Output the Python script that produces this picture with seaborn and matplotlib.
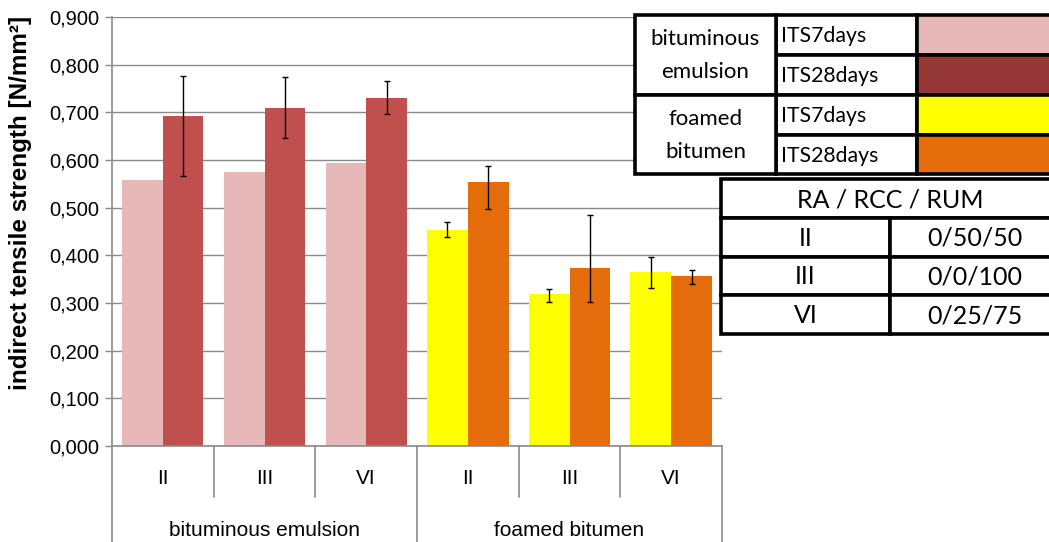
import seaborn as sns
import matplotlib.pyplot as plt
import pandas as pd
from matplotlib.patches import Rectangle
from matplotlib.ticker import FuncFormatter
from matplotlib.transforms import blended_transform_factory

# values
binders = ["bituminous emulsion", "foamed bitumen"]
mixes = ["II", "III", "VI"]
ages = ["ITS7days", "ITS28days"]

emul_7 = [0.558, 0.575, 0.594]
emul_28 = [0.692, 0.710, 0.731]
emul_28_lo = [0.126, 0.063, 0.035]
emul_28_hi = [0.084, 0.064, 0.035]
foam_7 = [0.453, 0.319, 0.365]
foam_7_lo = [0.015, 0.017, 0.034]
foam_7_hi = [0.016, 0.011, 0.031]
foam_28 = [0.554, 0.373, 0.357]
foam_28_lo = [0.057, 0.071, 0.017]
foam_28_hi = [0.033, 0.111, 0.013]

emul_colors = ["#E6B8B7", "#C0504D"]
foam_colors = ["#FFFF00", "#E46C0A"]
legend_colors = ["#E6B8B7", "#953735", "#FFFF00", "#E46C0A"]
mix_ratios = ["0/50/50", "0/0/100", "0/25/75"]

slots = [b + "|" + m for b in binders for m in mixes]

sns.set_style("white")
plt.rcParams["font.family"] = ["Liberation Sans", "DejaVu Sans"]
plt.rcParams["text.color"] = "black"
plt.rcParams["ytick.labelcolor"] = "black"

fig = plt.figure(figsize=(10.49, 5.42), dpi=100)
W, H = 1049, 542
ax = fig.add_axes([112 / W, (H - 446) / H, 610 / W, 429 / H])

series = [
    (binders[0], emul_7, emul_28, None, (emul_28_lo, emul_28_hi), emul_colors),
    (binders[1], foam_7, foam_28, (foam_7_lo, foam_7_hi), (foam_28_lo, foam_28_hi), foam_colors),
]
for binder, v7, v28, e7, e28, cols in series:
    df = pd.DataFrame({
        "slot": [binder + "|" + m for m in mixes] * 2,
        "age": [ages[0]] * 3 + [ages[1]] * 3,
        "its": v7 + v28,
    })
    sns.barplot(data=df, x="slot", y="its", hue="age", order=slots, hue_order=ages,
                palette=cols, saturation=1, errorbar=None, linewidth=0,
                legend=False, ax=ax, zorder=2)
    for cont, errs in zip(ax.containers[-2:], [e7, e28]):
        if errs is None:
            continue
        xs = [p.get_x() + p.get_width() / 2 for p in cont.patches]
        hs = [p.get_height() for p in cont.patches]
        ax.errorbar(xs, hs, yerr=[errs[0], errs[1]], fmt="none", ecolor="black",
                    elinewidth=1, capsize=2.5, capthick=1, zorder=3)

grey = "#8a8a8a"
ax.set_ylim(0, 0.9)
ax.set_xlim(-0.5, 5.5)
ax.set_yticks([i / 10 for i in range(10)])
ax.yaxis.set_major_formatter(FuncFormatter(lambda v, p: f"{v:.3f}".replace(".", ",")))
ax.tick_params(axis="y", labelsize=14.5, length=5, width=1, color=grey,
               labelcolor="black", left=True, pad=4)
ax.set_xticks([])
ax.set_xlabel("")
ax.set_ylabel("")
ax.grid(axis="y", color=grey, lw=1, zorder=0)
ax.set_axisbelow(True)
for s in ["top", "right"]:
    ax.spines[s].set_visible(False)
for s in ["left", "bottom"]:
    ax.spines[s].set_color(grey)
    ax.spines[s].set_linewidth(1.2)

# two-level category axis
tr = blended_transform_factory(ax.transData, ax.transAxes)
px = 1 / 429
for i, slot in enumerate(slots):
    ax.text(i, -32 * px, slot.split("|")[1], transform=tr, ha="center", va="center",
            fontsize=15, color="black")
for k in range(len(slots) + 1):
    x = k - 0.5
    depth = 96 if k % 3 == 0 else 51
    ax.plot([x, x], [0, -depth * px], transform=tr, color=grey, lw=1.2, clip_on=False)
for j, b in enumerate(binders):
    ax.text(j * 3 + 1, -84 * px, b, transform=tr, ha="center", va="center",
            fontsize=15, color="black")

fig.text(21 / W, (H - 203) / H, "indirect tensile strength [N/mm²]", rotation=90,
         ha="center", va="center", fontsize=17.5, fontweight="bold")

# tables drawn on an overlay in pixel space
ov = fig.add_axes([0, 0, 1, 1], zorder=10)
ov.set_xlim(0, W)
ov.set_ylim(H, 0)
ov.axis("off")
tfont = ["Lato", "DejaVu Sans"]
lw = 2.6


def cell(x0, y0, x1, y1, color="white"):
    ov.add_patch(Rectangle((x0, y0), x1 - x0, y1 - y0, facecolor=color,
                           edgecolor="black", lw=lw, clip_on=False))


# legend table
rows = [15, 55, 95, 135, 174]
c0, c1, c2, c3 = 635, 776, 917, 1080
labels = [ages[0], ages[1], ages[0], ages[1]]
for r in range(4):
    cell(c1, rows[r], c2, rows[r + 1])
    cell(c2, rows[r], c3, rows[r + 1], legend_colors[r])
    ov.text(c1 + 5, (rows[r] + rows[r + 1]) / 2 + 1, labels[r], ha="left", va="center",
            fontsize=15.3, family=tfont)
for j, b in enumerate(binders):
    cell(c0, rows[2 * j], c1, rows[2 * j + 2])
    for n, word in enumerate(b.split(" ")):
        ov.text((c0 + c1) / 2, rows[2 * j] + 24 + 33 * n, word, ha="center",
                va="center", fontsize=16, family=tfont)

# mix table
r2 = [179, 218, 257, 295, 334]
d0, d1, d2 = 721, 890, 1060
cell(d0, r2[0], d2, r2[1])
ov.text((d0 + d2) / 2, (r2[0] + r2[1]) / 2 + 1, "RA / RCC / RUM", ha="center",
        va="center", fontsize=18, family=tfont)
for i in range(3):
    cell(d0, r2[i + 1], d1, r2[i + 2])
    cell(d1, r2[i + 1], d2, r2[i + 2])
    ov.text((d0 + d1) / 2, (r2[i + 1] + r2[i + 2]) / 2 + 1, mixes[i], ha="center",
            va="center", fontsize=18, family=tfont)
    ov.text((d1 + d2) / 2, (r2[i + 1] + r2[i + 2]) / 2 + 1, mix_ratios[i], ha="center",
            va="center", fontsize=18, family=tfont)

fig.savefig("out.png", dpi=100)
